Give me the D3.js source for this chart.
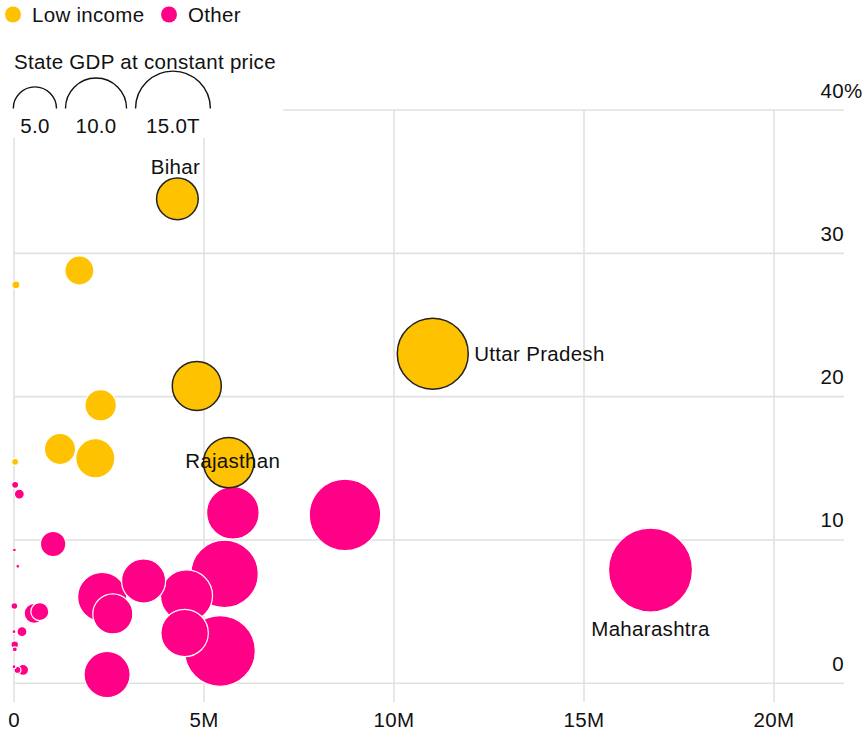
<!DOCTYPE html>
<html>
<head>
<meta charset="utf-8">
<script src="https://cdn.jsdelivr.net/npm/d3@7/dist/d3.min.js"></script>
<style>
  html, body { margin: 0; padding: 0; background: #fff; }
  svg text { font-family: "Liberation Sans", Arial, sans-serif; fill: #111; letter-spacing: 0.3px; }
</style>
</head>
<body>
<svg id="chart" width="865" height="739"></svg>
<script>
// ---- Data (x: millions, y: percent, gdp: trillions) ----
const names   = ["Bihar","", "", "Uttar Pradesh","", "", "", "", "", "Rajasthan",
                 "", "", "", "", "", "", "", "Maharashtra","", "", "", "", "", "", "", "", "", "", "", "", "", "", "", "", "", ""];
const groups  = ["low","low","low","low","low","low","low","low","low","low",
                 "other","other","other","other","other","other","other","other","other","other",
                 "other","other","other","other","other","other","other","other","other","other",
                 "other","other","other","other","other","other"];
const xValues = [4.30, 1.72, 0.05, 11.02, 4.81, 2.28, 1.21, 2.14, 0.03, 5.65,
                 0.03, 0.14, 5.76, 8.71, 1.03, 0.01, 0.10, 16.75, 5.54, 3.41,
                 2.32, 4.54, 2.60, 5.42, 4.49, 2.45, 0.01, 0.53, 0.68, 0.00,
                 0.21, 0.02, 0.02, 0.00, 0.09, 0.24];
const yValues = [33.8, 28.8, 27.8, 23.0, 20.75, 19.4, 16.35, 15.7, 15.45, 15.4,
                 13.85, 13.2, 11.9, 11.75, 9.72, 9.3, 8.16, 7.9, 7.63, 7.14,
                 6.02, 6.1, 4.84, 2.26, 3.51, 0.61, 5.39, 4.88, 5.0, 3.6,
                 3.6, 2.69, 2.37, 1.16, 0.93, 0.93];
const gdpValues = [4.65, 2.26, 0.17, 13.5, 6.45, 2.65, 2.6, 4.1, 0.13, 6.8,
                 0.13, 0.27, 7.4, 13.7, 1.73, 0.04, 0.04, 18.9, 12.2, 5.2,
                 6.45, 7.26, 4.3, 13.4, 6.03, 5.7, 0.12, 1.07, 0.87, 0.04,
                 0.27, 0.15, 0.07, 0.04, 0.13, 0.32];
const outlined = [true, false, false, true, true, false, false, false, false, true,
                  false, false, false, false, false, false, false, false, false, false,
                  false, false, false, false, false, false, false, false, false, false,
                  false, false, false, false, false, false];
const xTicks = [0, 5, 10, 15, 20];
const xTickLabels = ["0", "5M", "10M", "15M", "20M"];
const yTicks = [0, 10, 20, 30, 40];
const yTickLabels = ["0", "10", "20", "30", "40"];
const legendGroups = ["Low income", "Other"];
const sizeLegendValues = [5, 10, 15];
const sizeLegendLabels = ["5.0", "10.0", "15.0T"];

const colors = { low: "#FFC200", other: "#FF0087" };

const data = names.map((n, i) => ({
  name: n, group: groups[i], x: xValues[i], y: yValues[i], gdp: gdpValues[i], hl: outlined[i]
}));

const svg = d3.select("#chart");
const x = d3.scaleLinear().domain([0, 20]).range([14, 774]);
const y = d3.scaleLinear().domain([0, 40]).range([683.3, 110]);
const r = d3.scaleSqrt().domain([0, 15]).range([0, 37.4]);

const FS = 20.5;

// Grid
const grid = svg.append("g");
grid.selectAll("line.h").data(yTicks).join("line")
  .attr("x1", x(0)).attr("x2", 844)
  .attr("y1", d => y(d)).attr("y2", d => y(d))
  .attr("stroke", "#e1e1e1").attr("stroke-width", 1.6);
grid.selectAll("line.v").data(xTicks).join("line")
  .attr("x1", d => x(d)).attr("x2", d => x(d))
  .attr("y1", y(40)).attr("y2", 702)
  .attr("stroke", "#e1e1e1").attr("stroke-width", 1.6);

// Y labels
const yl = svg.append("g");
yTicks.forEach((t, i) => {
  yl.append("text").attr("x", 844).attr("y", y(t) - 12.5)
    .attr("text-anchor", "end").attr("font-size", FS)
    .text(yTickLabels[i]);
  if (t === 40) {
    yl.append("text").attr("x", 844).attr("y", y(t) - 12.5)
      .attr("font-size", FS).text("%");
  }
});

// X labels
const xl = svg.append("g");
xTicks.forEach((t, i) => {
  xl.append("text").attr("x", x(t)).attr("y", 727)
    .attr("text-anchor", "middle").attr("font-size", FS)
    .text(xTickLabels[i]);
});

// Bubbles: regular sorted by size descending, then outlined ones on top
const normal = data.filter(d => !d.hl).sort((a, b) => b.gdp - a.gdp);
const hls = data.filter(d => d.hl).sort((a, b) => b.gdp - a.gdp);
const bubbles = svg.append("g");
bubbles.selectAll("circle.n").data(normal).join("circle")
  .attr("cx", d => x(d.x)).attr("cy", d => y(d.y)).attr("r", d => r(d.gdp))
  .attr("fill", d => colors[d.group]).attr("stroke", "#fff").attr("stroke-width", 1.2);
bubbles.selectAll("circle.h").data(hls).join("circle")
  .attr("cx", d => x(d.x)).attr("cy", d => y(d.y)).attr("r", d => r(d.gdp))
  .attr("fill", d => colors[d.group]).attr("stroke", "#222").attr("stroke-width", 1.5);

// Labels
const lab = svg.append("g").attr("font-size", FS);
data.filter(d => d.name).forEach(d => {
  const cx = x(d.x), cy = y(d.y), rr = r(d.gdp);
  let t = lab.append("text").text(d.name);
  if (d.name === "Bihar") {
    t.attr("x", cx - 2).attr("y", cy - rr - 4).attr("text-anchor", "middle");
  } else if (d.name === "Uttar Pradesh") {
    t.attr("x", cx + rr + 6).attr("y", cy + 7);
  } else if (d.name === "Rajasthan") {
    t.attr("x", cx + 4).attr("y", cy + 5).attr("text-anchor", "middle");
  } else if (d.name === "Maharashtra") {
    t.attr("x", cx).attr("y", cy + rr + 24).attr("text-anchor", "middle");
  }
});

// Legend background
svg.append("rect").attr("x", 0).attr("y", 0).attr("width", 283).attr("height", 138).attr("fill", "#fff");

// Color legend
const leg = svg.append("g");
const legX = [13, 169];
legendGroups.forEach((g, i) => {
  leg.append("circle").attr("cx", legX[i]).attr("cy", 14.5).attr("r", 8)
    .attr("fill", i === 0 ? colors.low : colors.other);
  leg.append("text").attr("x", legX[i] + 19).attr("y", 21.5).attr("font-size", FS).text(g);
});

// Size legend
leg.append("text").attr("x", 14).attr("y", 68.5).attr("font-size", FS).text("State GDP at constant price");
let cursor = 13.3;
const baseY = 108.5;
sizeLegendValues.forEach((v, i) => {
  const rr = r(v);
  const cx = cursor + rr;
  const arc = d3.arc()({ innerRadius: rr, outerRadius: rr, startAngle: -Math.PI / 2, endAngle: Math.PI / 2 });
  leg.append("path").attr("d", arc).attr("transform", `translate(${cx},${baseY})`)
    .attr("fill", "none").attr("stroke", "#111").attr("stroke-width", 1.4);
  leg.append("text").attr("x", cx).attr("y", 133).attr("text-anchor", "middle")
    .attr("font-size", FS).text(sizeLegendLabels[i]);
  cursor = cx + rr + 9;
});
</script>
</body>
</html>
